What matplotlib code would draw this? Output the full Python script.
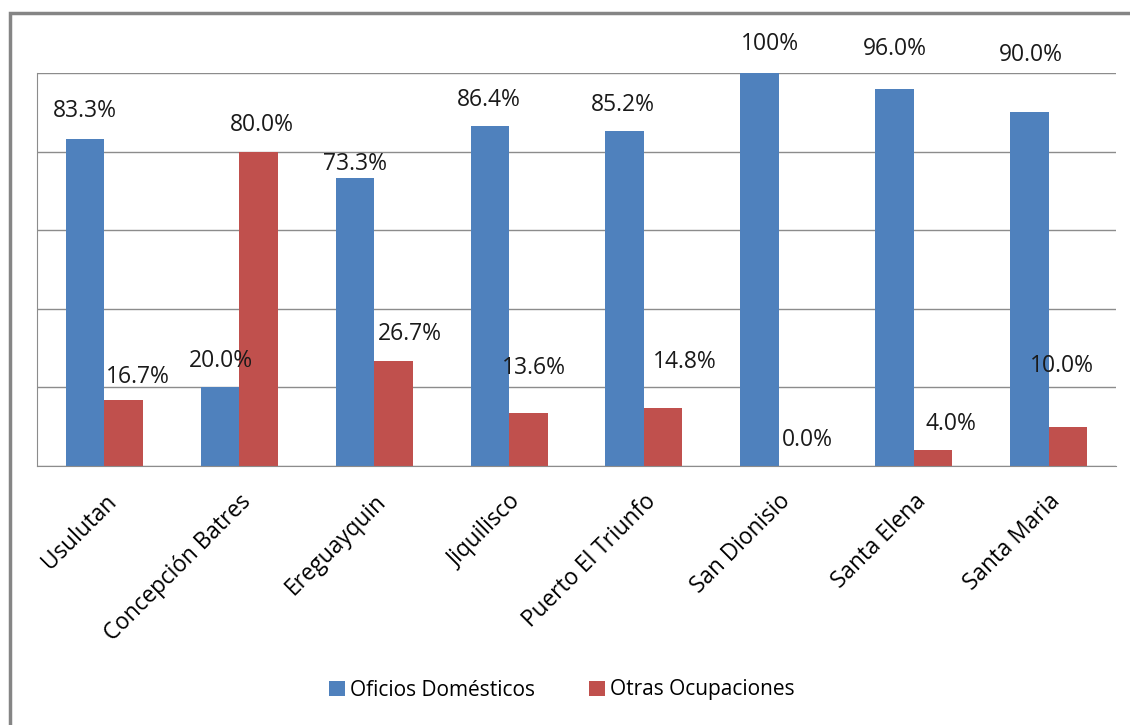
import matplotlib.pyplot as plt
import matplotlib.patches as mpatches
import numpy as np

municipios = ["Usulutan", "Concepción Batres", "Ereguayquin", "Jiquilisco",
              "Puerto El Triunfo", "San Dionisio", "Santa Elena", "Santa Maria"]
oficios = [83.3, 20.0, 73.3, 86.4, 85.2, 100.0, 96.0, 90.0]
otras = [16.7, 80.0, 26.7, 13.6, 14.8, 0.0, 4.0, 10.0]
oficios_lbl = ["83.3%", "20.0%", "73.3%", "86.4%", "85.2%", "100%", "96.0%", "90.0%"]
otras_lbl = ["16.7%", "80.0%", "26.7%", "13.6%", "14.8%", "0.0%", "4.0%", "10.0%"]

# label nudges in pixels (Excel placed them a bit unevenly)
oficios_nudge = [(0, 28), (1, 26), (0, 14), (-1, 26), (-2, 26), (10, 29), (0, 40), (2, 57)]
otras_nudge = [(14, 23), (3, 27), (16, 27), (6, 45), (22, 46), (9, 26), (18, 26), (-6, 61)]

plt.rcParams['font.family'] = ['Open Sans', 'DejaVu Sans']

fig = plt.figure(figsize=(11.3, 7.25), dpi=100)
# outer frame (runs off the right/bottom edge like the original crop)
fig.patches.append(mpatches.Rectangle((10 / 1130, -0.1), 1.2, 0.1 + (725 - 13) / 725,
                                      transform=fig.transFigure, fill=False,
                                      edgecolor='#858585', linewidth=2.5))

ax = fig.add_axes([37 / 1130, (725 - 466) / 725, (1116 - 37) / 1130, (466 - 73) / 725])
x = np.arange(len(municipios))
w = 0.285
b1 = ax.bar(x - w / 2, oficios, w, color='#4F81BD', label='Oficios Domésticos', zorder=2)
b2 = ax.bar(x + w / 2, otras, w, color='#C0504D', label='Otras Ocupaciones', zorder=2)

for bars, lbls, nudges in ((b1, oficios_lbl, oficios_nudge), (b2, otras_lbl, otras_nudge)):
    for r, s, (dx, dy) in zip(bars, lbls, nudges):
        ax.annotate(s, (r.get_x() + r.get_width() / 2, r.get_height()),
                    xytext=(dx, dy), textcoords='offset pixels',
                    ha='center', va='center', fontsize=16.5, color='#1a1a1a')

ax.set_xlim(-0.5, len(municipios) - 0.5)
ax.set_ylim(0, 100)
ax.set_yticks(np.arange(0, 101, 20))
ax.set_yticklabels([])
ax.tick_params(axis='y', length=0)
ax.yaxis.grid(True, color='#8c8c8c', linewidth=1)
ax.set_axisbelow(True)
ax.set_xticks(x)
ax.set_xticklabels(municipios, rotation=45, ha='right', rotation_mode='anchor',
                   fontsize=16.3)
ax.tick_params(axis='x', length=0, pad=17)
for side in ('top', 'right'):
    ax.spines[side].set_visible(False)
for side in ('left', 'bottom'):
    ax.spines[side].set_color('#8c8c8c')

fig.legend(handles=[b1, b2], loc='center', bbox_to_anchor=(562 / 1130, 1 - 690 / 725),
           ncol=2, frameon=False, fontsize=15, handlelength=0.75, handleheight=0.75,
           handletextpad=0.25, columnspacing=2.6)

fig.savefig('out.png', dpi=100)
